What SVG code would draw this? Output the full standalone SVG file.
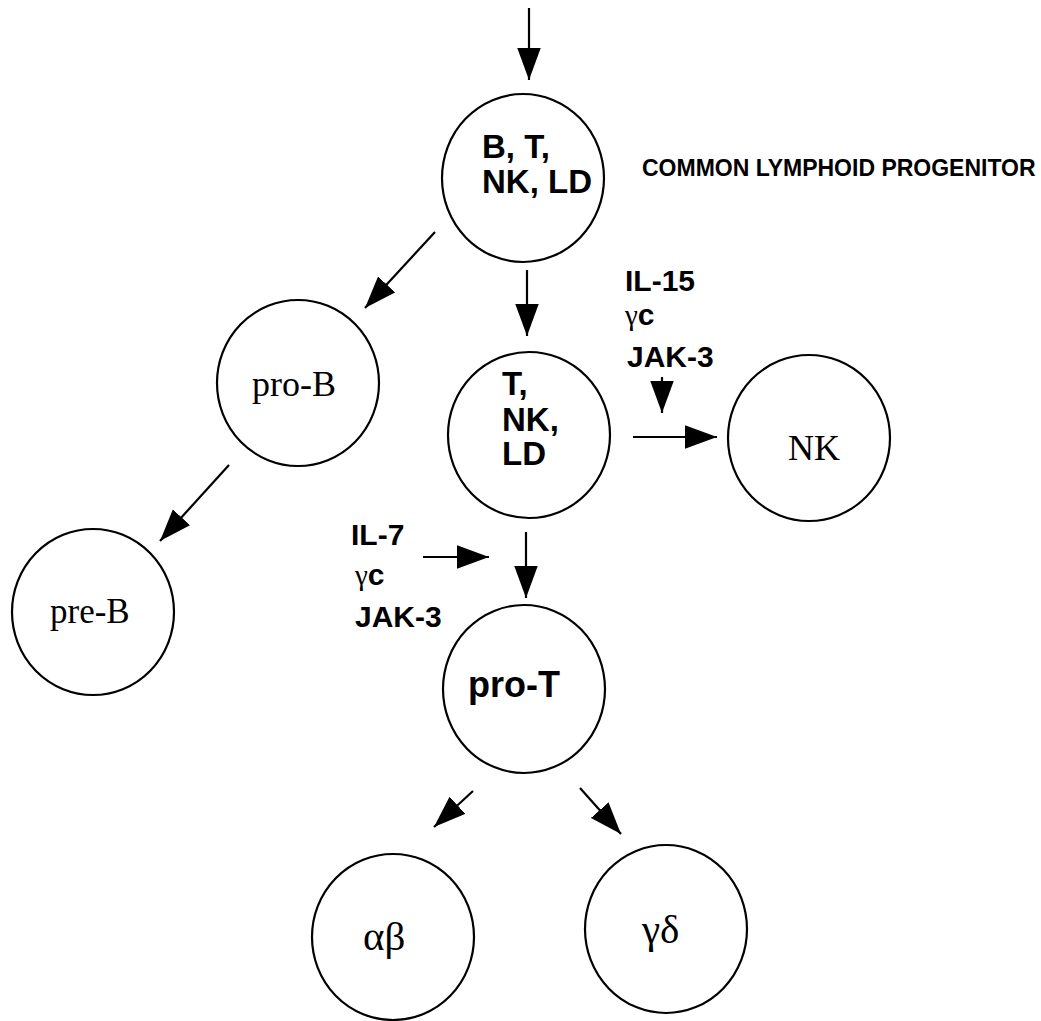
<svg xmlns="http://www.w3.org/2000/svg" width="1041" height="1021" viewBox="0 0 1041 1021">
<defs>
<marker id="ah" markerUnits="userSpaceOnUse" markerWidth="32" markerHeight="24" viewBox="0 0 30 22" refX="30" refY="11" orient="auto">
<path d="M0,0 L30,11 L0,22 Z" fill="#000"/>
</marker>
<style>
.node{fill:#fff;stroke:#000;stroke-width:2.2}
.edge{stroke:#000;stroke-width:2.2;fill:none;marker-end:url(#ah)}
.b{font-family:"Liberation Sans",Arial,sans-serif;font-weight:bold;font-size:33px;fill:#000}
.lb{font-family:"Liberation Sans",Arial,sans-serif;font-weight:bold;font-size:30px;fill:#000}
.s{font-family:"Liberation Serif","Times New Roman",serif;font-size:36px;fill:#000}
.gr{font-family:"Liberation Serif","Times New Roman",serif;font-size:41px;fill:#000}
.g{font-family:"Liberation Serif","Times New Roman",serif;font-weight:normal;font-size:29px}
</style>
</defs>
<rect width="1041" height="1021" fill="#fff"/>
<g id="connectors">
<line class="edge" x1="529" y1="8" x2="529" y2="80"/>
<line class="edge" x1="435" y1="232" x2="365" y2="308"/>
<line class="edge" x1="527" y1="270" x2="527" y2="336"/>
<line class="edge" x1="229" y1="465" x2="160" y2="541"/>
<line class="edge" x1="633" y1="437" x2="717" y2="437"/>
<line class="edge" x1="662" y1="377" x2="662" y2="413"/>
<line class="edge" x1="423" y1="557" x2="489" y2="557"/>
<line class="edge" x1="526" y1="532" x2="526" y2="598"/>
<line class="edge" x1="473" y1="791" x2="434" y2="827"/>
<line class="edge" x1="580" y1="788" x2="621" y2="834"/>
</g>
<g id="n-clp">
<ellipse class="node" cx="523" cy="178" rx="81" ry="84"/>
<text class="b" x="482" y="158">B, T,</text>
<text class="b" x="482" y="193">NK, LD</text>
</g>
<text id="clp-label" class="b" style="font-size:23px" x="642" y="176">COMMON LYMPHOID PROGENITOR</text>
<g id="n-proB">
<ellipse class="node" cx="298" cy="383" rx="81" ry="83"/>
<text class="s" x="252" y="396">pro-B</text>
</g>
<g id="n-tnk">
<ellipse class="node" cx="529" cy="435" rx="81" ry="83"/>
<text class="b" x="502" y="395">T,</text>
<text class="b" x="502" y="431">NK,</text>
<text class="b" x="502" y="465">LD</text>
</g>
<g id="n-nk">
<ellipse class="node" cx="809" cy="438" rx="81" ry="83"/>
<text class="s" x="788" y="460">NK</text>
</g>
<g id="n-preB">
<ellipse class="node" cx="93" cy="612" rx="81" ry="83"/>
<text class="s" style="font-size:35px" x="50" y="623">pre-B</text>
</g>
<g id="n-proT">
<ellipse class="node" cx="524" cy="689" rx="81" ry="84"/>
<text class="b" style="font-size:36px" x="468" y="697">pro-T</text>
</g>
<g id="n-ab">
<ellipse class="node" cx="393" cy="937" rx="81" ry="83"/>
<text class="gr" x="363" y="950">αβ</text>
</g>
<g id="n-gd">
<ellipse class="node" cx="666" cy="929" rx="81" ry="84"/>
<text class="gr" x="642" y="943">γδ</text>
</g>
<g id="label-il15">
<text class="lb" x="625" y="291">IL-15</text>
<text class="lb" x="625" y="325"><tspan class="g">γ</tspan>c</text>
<text class="lb" x="627" y="367">JAK-3</text>
</g>
<g id="label-il7">
<text class="lb" x="351" y="545">IL-7</text>
<text class="lb" x="355" y="585"><tspan class="g">γ</tspan>c</text>
<text class="lb" x="355" y="627">JAK-3</text>
</g>
</svg>
